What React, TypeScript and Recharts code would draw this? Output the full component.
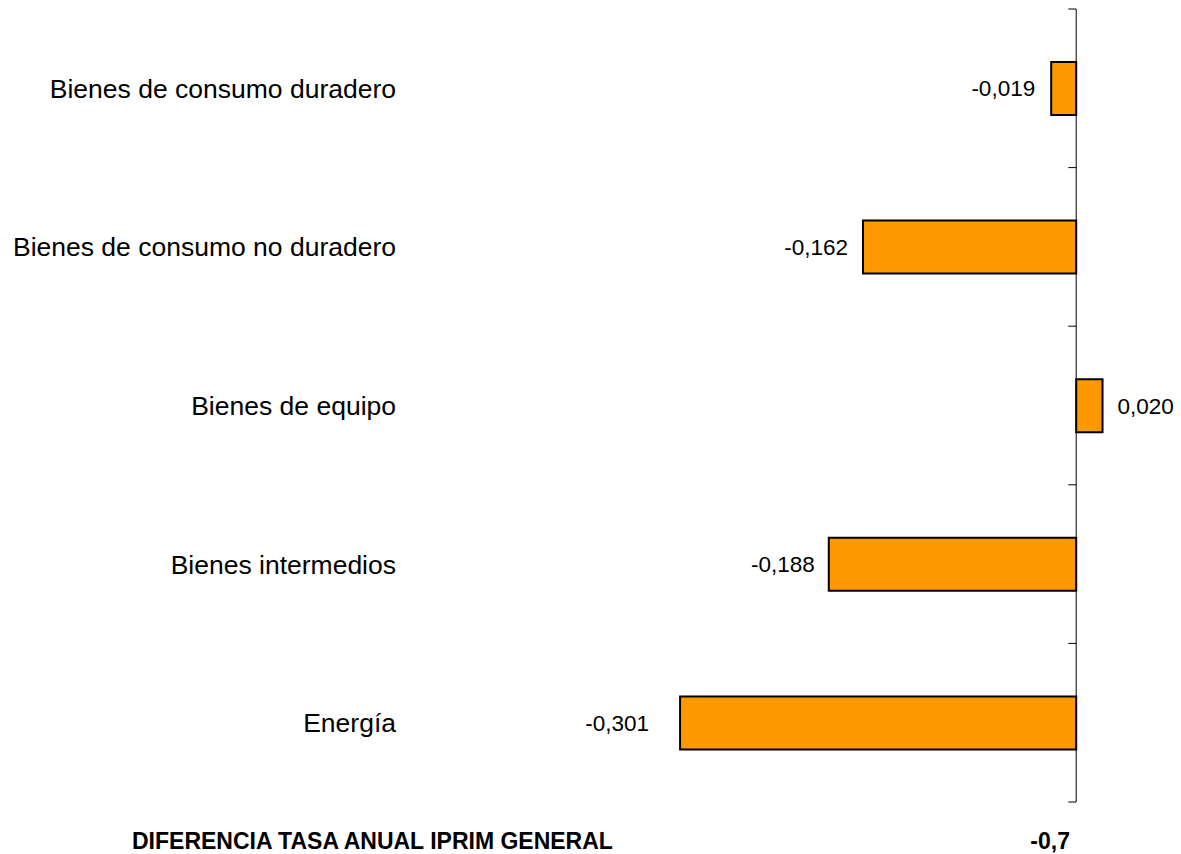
import { Bar, BarChart, LabelList, ReferenceLine, XAxis, YAxis } from 'recharts';

// Categories and their difference vs. the general annual rate
const categories = [
  'Bienes de consumo duradero',
  'Bienes de consumo no duradero',
  'Bienes de equipo',
  'Bienes intermedios',
  'Energía',
];
const differences = [-0.019, -0.162, 0.02, -0.188, -0.301];

// Footer line
const generalLabel = 'DIFERENCIA TASA ANUAL IPRIM GENERAL';
const generalValue = -0.7;

// Gap (px) between each bar and its value label
const labelGaps = [16, 15, 15, 14, 31];

const FONT = '"Liberation Sans", Arial, sans-serif';
const TICK_LEN = 0.006;

const chartData = categories.map((name, i) => ({ name, value: differences[i] }));

// Small axis ticks sit on the category boundaries: the start of every band plus the end of the last
const boundaryTicks = [
  ...categories.map((name) => ({ name, position: 'start' as const })),
  { name: categories[categories.length - 1], position: 'end' as const },
];

const formatValue = (v: number, digits: number) => v.toFixed(digits).replace('.', ',');

// Value label placed outside the bar end
const renderValueLabel = (props: any) => {
  const x = Number(props.x);
  const y = Number(props.y);
  const width = Number(props.width);
  const height = Number(props.height);
  const value = Number(props.value);
  const gap = labelGaps[props.index] ?? 14;
  const left = Math.min(x, x + width);
  const right = Math.max(x, x + width);
  const negative = value < 0;
  return (
    <text
      x={negative ? left - gap : right + gap}
      y={y + height / 2}
      dy="0.355em"
      textAnchor={negative ? 'end' : 'start'}
      fontSize={22.5}
      fontFamily={FONT}
      fill="#000"
    >
      {formatValue(value, 3)}
    </text>
  );
};

export default function App() {
  return (
    <div style={{ position: 'absolute', left: 0, top: 0, width: 1181, height: 854, background: '#fff', fontFamily: FONT }}>
      <BarChart
        width={1181}
        height={854}
        layout="vertical"
        data={chartData}
        margin={{ top: 9, right: 39, bottom: 52, left: 0 }}
      >
        <XAxis type="number" domain={[-0.45, 0.05]} hide allowDataOverflow />
        <YAxis
          type="category"
          dataKey="name"
          width={484}
          axisLine={false}
          tickLine={false}
          tickSize={0}
          tickMargin={88}
          interval={0}
          tick={{ fill: '#000', fontSize: 26.5, fontFamily: FONT }}
        />
        <ReferenceLine x={0} stroke="#000" strokeWidth={1} />
        {boundaryTicks.map((t, i) => (
          <ReferenceLine
            key={i}
            position={t.position}
            segment={[
              { x: -TICK_LEN, y: t.name },
              { x: 0, y: t.name },
            ]}
            stroke="#000"
            strokeWidth={1}
          />
        ))}
        <Bar
          dataKey="value"
          fill="#FF9900"
          stroke="#000"
          strokeWidth={2}
          barSize={53}
          isAnimationActive={false}
        >
          <LabelList dataKey="value" content={renderValueLabel} />
        </Bar>
      </BarChart>
      <svg
        width={1181}
        height={854}
        style={{ position: 'absolute', left: 0, top: 0, pointerEvents: 'none' }}
      >
        <text x={132} y={849} fontSize={23} fontWeight="bold" fontFamily={FONT} fill="#000">
          {generalLabel}
        </text>
        <text x={1070} y={849} fontSize={23} fontWeight="bold" fontFamily={FONT} fill="#000" textAnchor="end">
          {formatValue(generalValue, 1)}
        </text>
      </svg>
    </div>
  );
}
